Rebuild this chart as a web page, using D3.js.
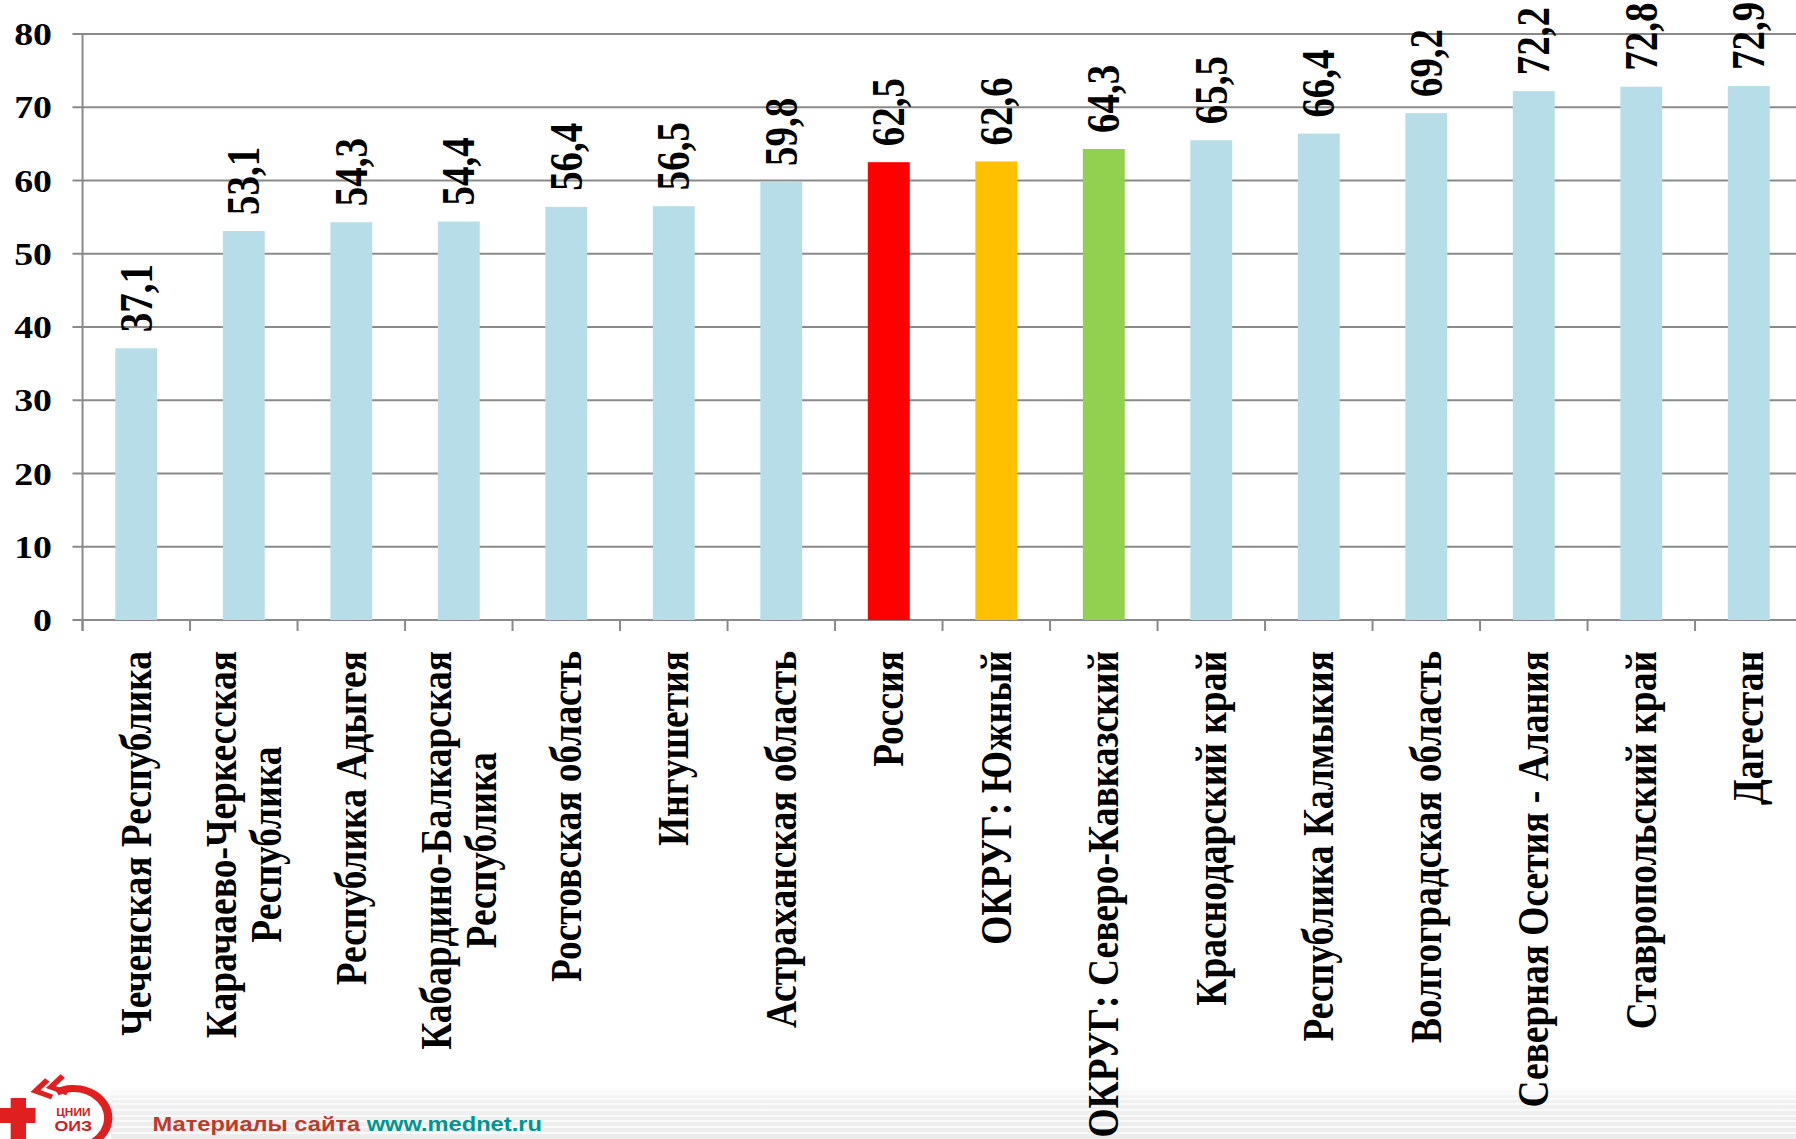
<!DOCTYPE html>
<html>
<head>
<meta charset="utf-8">
<script src="https://cdn.jsdelivr.net/npm/d3@7"></script>
<style>
  html, body { margin: 0; padding: 0; background: #fff; overflow: hidden; }
  svg { display: block; }
</style>
</head>
<body>
<svg id="chart" width="1796" height="1139"></svg>
<script>
// ---- data ----
const categories = [
  ["Чеченская Республика"],
  ["Карачаево-Черкесская", "Республика"],
  ["Республика Адыгея"],
  ["Кабардино-Балкарская", "Республика"],
  ["Ростовская область"],
  ["Ингушетия"],
  ["Астраханская область"],
  ["Россия"],
  ["ОКРУГ: Южный"],
  ["ОКРУГ: Северо-Кавказский"],
  ["Краснодарский край"],
  ["Республика Калмыкия"],
  ["Волгоградская область"],
  ["Северная Осетия - Алания"],
  ["Ставропольский край"],
  ["Дагестан"]
];
const values = [37.1, 53.1, 54.3, 54.4, 56.4, 56.5, 59.8, 62.5, 62.6, 64.3, 65.5, 66.4, 69.2, 72.2, 72.8, 72.9];
const barColors = ["#B7DEE8","#B7DEE8","#B7DEE8","#B7DEE8","#B7DEE8","#B7DEE8","#B7DEE8",
                   "#FF0000","#FFC000","#92D050",
                   "#B7DEE8","#B7DEE8","#B7DEE8","#B7DEE8","#B7DEE8","#B7DEE8"];
const yTicks = [0, 10, 20, 30, 40, 50, 60, 70, 80];

// ---- layout (design space is a 4:3 slide stretched to the window) ----
const W = 1796, H = 1139;
const DW = H * 4 / 3; // design width
const svg = d3.select("#chart")
  .attr("viewBox", `0 0 ${DW} ${H}`)
  .attr("preserveAspectRatio", "none");

const axisX = 69.8, step = 90.9;
const x = d3.scaleBand()
  .domain(d3.range(categories.length))
  .range([axisX, axisX + step * categories.length])
  .paddingInner(0.61).paddingOuter(0.305);
const y = d3.scaleLinear().domain([0, 80]).range([620, 34]);

const serif = "'Liberation Serif', 'Times New Roman', serif";
const grid = "#8a8a8a";

// footer background stripes
const defs = svg.append("defs");
const grad = defs.append("linearGradient").attr("id", "foot").attr("x1", 0).attr("y1", 0).attr("x2", 0).attr("y2", 1);
grad.append("stop").attr("offset", 0).attr("stop-color", "#ffffff");
grad.append("stop").attr("offset", 0.25).attr("stop-color", "#f1f1f1");
grad.append("stop").attr("offset", 1).attr("stop-color", "#ececec");
const foot = svg.append("g");
foot.append("rect").attr("x", 0).attr("y", 1086).attr("width", DW).attr("height", H - 1086).attr("fill", "url(#foot)");
const stripeYs = [1094, 1099, 1104, 1110, 1116, 1121, 1127, 1133];
foot.selectAll("line.stripe").data(stripeYs).join("line")
  .attr("x1", 95).attr("x2", DW).attr("y1", d => d).attr("y2", d => d)
  .attr("stroke", "#fafafa").attr("stroke-width", 2);

// gridlines
svg.append("g").selectAll("line").data(yTicks).join("line")
  .attr("x1", axisX - 8.5).attr("x2", DW)
  .attr("y1", d => y(d)).attr("y2", d => y(d))
  .attr("stroke", grid).attr("stroke-width", 2)
  .attr("vector-effect", "non-scaling-stroke");

// y axis line
svg.append("line")
  .attr("x1", axisX).attr("x2", axisX).attr("y1", y(80)).attr("y2", y(0) + 11)
  .attr("stroke", grid).attr("stroke-width", 2).attr("vector-effect", "non-scaling-stroke");

// x category tick marks
svg.append("g").selectAll("line").data(d3.range(categories.length + 1)).join("line")
  .attr("x1", i => axisX + i * x.step()).attr("x2", i => axisX + i * x.step())
  .attr("y1", y(0)).attr("y2", y(0) + 11)
  .attr("stroke", grid).attr("stroke-width", 2).attr("vector-effect", "non-scaling-stroke");

// y tick labels
svg.append("g").selectAll("text").data(yTicks).join("text")
  .attr("x", 44).attr("y", d => y(d)).attr("dy", "0.35em")
  .attr("text-anchor", "end")
  .attr("font-family", serif).attr("font-weight", "bold").attr("font-size", 32)
  .text(d => d);

// bars
svg.append("g").selectAll("rect").data(values).join("rect")
  .attr("x", (d, i) => x(i)).attr("width", x.bandwidth())
  .attr("y", d => y(d)).attr("height", d => y(0) - y(d))
  .attr("fill", (d, i) => barColors[i]);

// value labels
svg.append("g").selectAll("text").data(values).join("text")
  .attr("transform", (d, i) => `translate(${x(i) + x.bandwidth() / 2},${y(d) - 16}) rotate(-90)`)
  .attr("dy", "0.33em")
  .attr("text-anchor", "start")
  .attr("font-family", serif).attr("font-weight", "bold").attr("font-size", 39)
  .text(d => d.toFixed(1).replace(".", ","));

// category labels
const catTop = 651;
const catG = svg.append("g");
categories.forEach((lines, i) => {
  const cx = x(i) + x.bandwidth() / 2;
  const t = catG.append("text")
    .attr("font-family", serif).attr("font-weight", "bold").attr("font-size", 37.5);
  if (lines.length === 1) {
    t.attr("transform", `translate(${cx},${catTop}) rotate(-90)`)
      .attr("text-anchor", "end").attr("dy", "0.33em").text(lines[0]);
  } else {
    const spans = lines.map((ln, k) => t.append("tspan").text(ln));
    const maxLen = d3.max(spans, s => s.node().getComputedTextLength());
    t.attr("transform", `translate(${cx},${catTop + maxLen / 2}) rotate(-90)`)
      .attr("text-anchor", "middle");
    const lh = 1.0;
    spans.forEach((s, k) => {
      s.attr("x", 0).attr("dy", k === 0 ? `${0.33 - lh * (lines.length - 1) / 2}em` : `${lh}em`);
    });
  }
});

// logo
const logo = svg.append("g");
logo.append("rect").attr("x", 0).attr("y", 1072).attr("width", 94).attr("height", 67).attr("fill", "#fff");
logo.append("rect").attr("x", 0).attr("y", 1108).attr("width", 30).attr("height", 15).attr("fill", "#e02020");
logo.append("rect").attr("x", 9).attr("y", 1098).attr("width", 13).attr("height", 41).attr("fill", "#e02020");
logo.append("path")
  .attr("d", d3.arc()({innerRadius: 26, outerRadius: 33, startAngle: -0.5, endAngle: 3.2}))
  .attr("transform", "translate(62,1118)")
  .attr("fill", "#e02020");
logo.append("path").attr("d", "M40,1080 L30,1091 L44,1097 M53,1076 L43,1087 L57,1093")
  .attr("stroke", "#e02020").attr("stroke-width", 5).attr("fill", "none");
logo.append("text").attr("x", 62).attr("y", 1116).attr("text-anchor", "middle")
  .attr("font-family", "'Liberation Sans', Arial, sans-serif").attr("font-size", 10).attr("font-weight", "bold")
  .attr("fill", "#d02020").text("ЦНИИ");
logo.append("text").attr("x", 62).attr("y", 1131).attr("text-anchor", "middle")
  .attr("font-family", "'Liberation Sans', Arial, sans-serif").attr("font-size", 15).attr("font-weight", "bold")
  .attr("fill", "#d02020").text("ОИЗ");

// footer text
const ft = svg.append("text").attr("x", 129).attr("y", 1131)
  .attr("font-family", "'Liberation Sans', Arial, sans-serif").attr("font-weight", "bold").attr("font-size", 20);
ft.append("tspan").attr("fill", "#c0392b").text("Материалы сайта ");
ft.append("tspan").attr("fill", "#00958d").text("www.mednet.ru");
</script>
</body>
</html>
